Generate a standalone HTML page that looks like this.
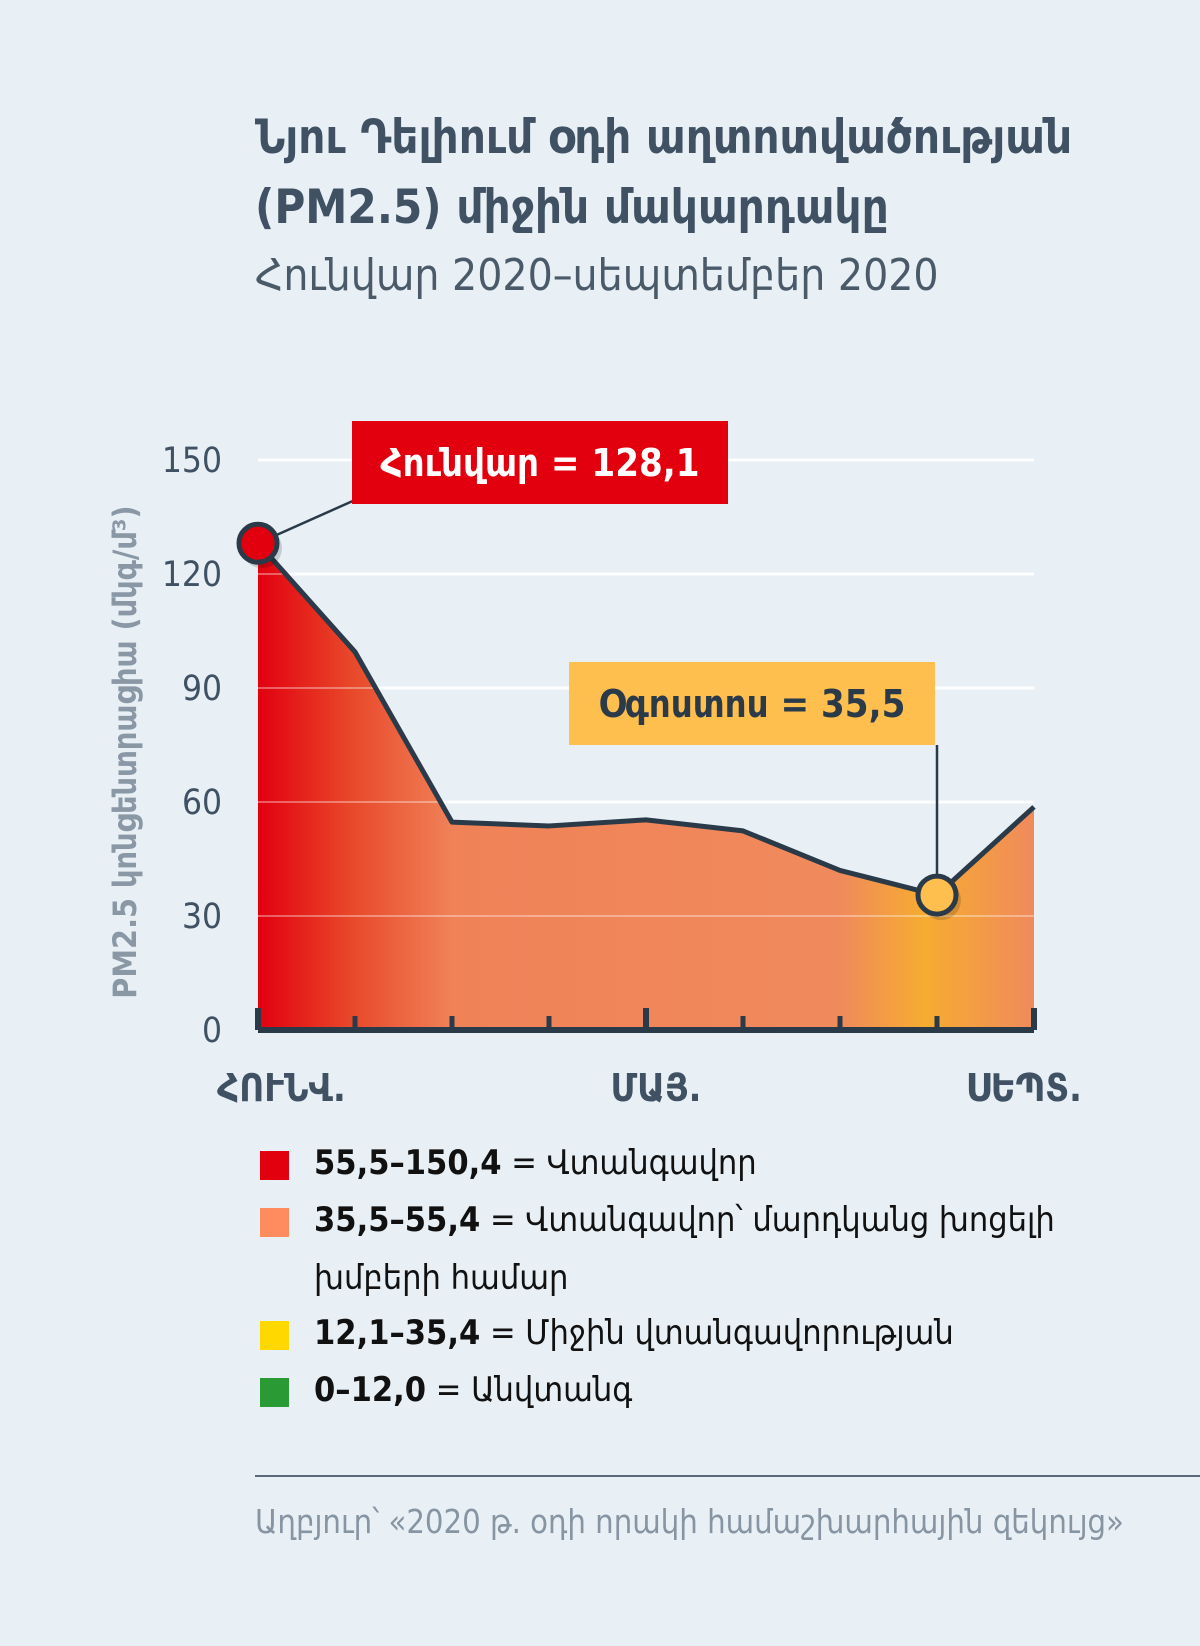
<!DOCTYPE html>
<html><head><meta charset="utf-8">
<style>
html,body{margin:0;padding:0;background:#e8f0f6;}
body{width:1200px;height:1646px;position:relative;overflow:hidden;font-family:"Liberation Sans","DejaVu Sans Condensed","DejaVu Sans",sans-serif;color:#33414f;}
.abs{position:absolute;white-space:nowrap;}
.ttl{left:255px;font-size:47px;font-weight:bold;color:#3f5163;font-family:"DejaVu Sans Condensed","DejaVu Sans",sans-serif;}
.sub{left:255px;font-size:44px;color:#4a5a69;font-family:"DejaVu Sans Condensed","DejaVu Sans",sans-serif;}
.lg{left:314px;font-size:34px;color:#111;font-family:"DejaVu Sans Condensed","DejaVu Sans",sans-serif;}
.sq{position:absolute;left:260px;width:29px;height:29px;}
</style></head><body>
<div class="abs ttl" style="top:110px">Նյու Դելիում օդի աղտոտվածության</div>
<div class="abs ttl" style="top:180px">(PM2.5) միջին մակարդակը</div>
<div class="abs sub" style="top:250px">Հունվար 2020–սեպտեմբեր 2020</div>

<svg id="chart" class="abs" style="left:0;top:0" width="1200" height="1130"></svg>

<div class="sq" style="top:1151px;background:#e2000f"></div>
<div class="abs lg" style="top:1143px"><b>55,5–150,4</b> = Վտանգավոր</div>
<div class="sq" style="top:1208px;background:#ff8c5f"></div>
<div class="abs lg" style="top:1200px"><b>35,5–55,4</b> = Վտանգավոր՝ մարդկանց խոցելի</div>
<div class="abs lg" style="top:1258px">խմբերի համար</div>
<div class="sq" style="top:1321px;background:#ffd800"></div>
<div class="abs lg" style="top:1313px"><b>12,1–35,4</b> = Միջին վտանգավորության</div>
<div class="sq" style="top:1378px;background:#2a9a35"></div>
<div class="abs lg" style="top:1370px"><b>0–12,0</b> = Անվտանգ</div>

<div class="abs" style="left:255px;top:1475px;width:945px;height:2px;background:#5a6a78"></div>
<div class="abs" style="left:255px;top:1503px;font-size:32.5px;color:#8795a3;font-family:'DejaVu Sans Condensed','DejaVu Sans',sans-serif">Աղբյուր՝ «2020 թ. օդի որակի համաշխարհային զեկույց»</div>

<script>
const months = ["Jan","Feb","Mar","Apr","May","Jun","Jul","Aug","Sep"];
const pm25 = [128.1, 99.5, 54.7, 53.7, 55.3, 52.4, 42, 35.5, 58.7];
const yTicks = [0, 30, 60, 90, 120, 150];
const xLabels = ["ՀՈՒՆՎ.", "ՄԱՅ.", "ՍԵՊՏ."];
const xLabelIdx = [0, 4, 8];

const NS="http://www.w3.org/2000/svg";
const svg=document.getElementById('chart');
const X0=258, X1=1034, Y0=1030, YPX=3.8;
const x=i=>X0+(X1-X0)*i/(months.length-1);
const y=v=>Y0-v*YPX;
function mk(t,a,p){const e=document.createElementNS(NS,t);for(const k in a)e.setAttribute(k,a[k]);(p||svg).appendChild(e);return e;}

const defs=mk('defs',{});
const g=mk('linearGradient',{id:'fillg',x1:'0',x2:'1',y1:'0',y2:'0'},defs);
[[0,'#e2000f'],[0.12,'#e8482a'],[0.25,'#f08258'],[0.75,'#f08a5c'],[0.86,'#f6ac30'],[1,'#f08a5c']].forEach(s=>mk('stop',{offset:s[0],'stop-color':s[1]},g));

yTicks.forEach(t=>{
  if(t>0){const l=mk('line',{x1:X0,x2:X1,y1:y(t),y2:y(t),stroke:'#ffffff','stroke-width':3,'stroke-opacity':0.85});
  
  }
  const tx=mk('text',{x:222,y:y(t)+12,'text-anchor':'end','font-size':35,fill:'#3f5163','font-family':'DejaVu Sans Condensed, sans-serif'});
  tx.textContent=t;
  
  
});

let d='M'+x(0)+','+Y0;
pm25.forEach((v,i)=>d+=' L'+x(i)+','+y(v));
d+=' L'+x(pm25.length-1)+','+Y0+' Z';
const area=mk('path',{d:d,fill:'url(#fillg)'});


yTicks.forEach(t=>{if(t>0){const l=mk('line',{x1:X0,x2:X1,y1:y(t),y2:y(t),stroke:'#ffffff','stroke-width':2,'stroke-opacity':0.35});

}});

let ld='';
pm25.forEach((v,i)=>ld+=(i?' L':'M')+x(i)+','+y(v));
const line=mk('path',{d:ld,fill:'none',stroke:'#2b3a48','stroke-width':5,'stroke-linejoin':'round'});



const ax=mk('line',{x1:X0,x2:X1,y1:Y0,y2:Y0,stroke:'#2b3a48','stroke-width':6});


months.forEach((m,i)=>{
  const big=(i===0||i===4||i===8);
  const tk=mk('line',{x1:x(i),x2:x(i),y1:Y0-(big?22:14),y2:Y0,stroke:'#2b3a48','stroke-width':big?6:5});
  
  
});
xLabels.forEach((s,k)=>{
  const i=xLabelIdx[k];
  const anchor=k===0?'start':(k===2?'end':'middle');
  const xx=k===0?217:(k===2?1082:x(i)+10);
  const t=mk('text',{x:xx,y:1101,'text-anchor':anchor,'font-size':38,'font-weight':'bold',fill:'#3f5163','font-family':'DejaVu Sans Condensed, DejaVu Sans, sans-serif'});
  t.textContent=s;
  
  
});

const yt=mk('text',{x:0,y:0,transform:'translate(136,752) rotate(-90)','text-anchor':'middle','font-size':32,'font-weight':'bold',fill:'#8a97a5','font-family':'DejaVu Sans Condensed, DejaVu Sans, sans-serif'});
yt.textContent='PM2.5 կոնցենտրացիա (մկգ/մ³)';



const jI=0, aI=7;
const c1=mk('line',{x1:x(jI),y1:y(pm25[jI]),x2:355,y2:500,stroke:'#2b3a48','stroke-width':2.5});


const r1=mk('rect',{x:352,y:421,width:376,height:83,fill:'#e2000f'});


const t1=mk('text',{x:540,y:476,'text-anchor':'middle','font-size':38,'font-weight':'bold',fill:'#ffffff','font-family':'DejaVu Sans Condensed, DejaVu Sans, sans-serif'});
t1.textContent='Հունվար = '+String(pm25[jI]).replace('.',',');



const c2=mk('line',{x1:x(aI),y1:745,x2:x(aI),y2:y(pm25[aI]),stroke:'#2b3a48','stroke-width':2.5});


const r2=mk('rect',{x:569,y:662,width:366,height:83,fill:'#ffbf4f'});


const t2=mk('text',{x:752,y:717,'text-anchor':'middle','font-size':38,'font-weight':'bold',fill:'#2b3a48','font-family':'DejaVu Sans Condensed, DejaVu Sans, sans-serif'});
t2.textContent='Օգոստոս = '+String(pm25[aI]).replace('.',',');



[[jI,'#e2000f','jan-marker'],[aI,'#ffbf4f','aug-marker']].forEach(p=>{
  mk('circle',{cx:x(p[0])+4,cy:y(pm25[p[0]])+5,r:20,fill:'#000','fill-opacity':0.15});
  const c=mk('circle',{cx:x(p[0]),cy:y(pm25[p[0]]),r:19,fill:p[1],stroke:'#2b3a48','stroke-width':5});
  
  
});
</script>
</body></html>
